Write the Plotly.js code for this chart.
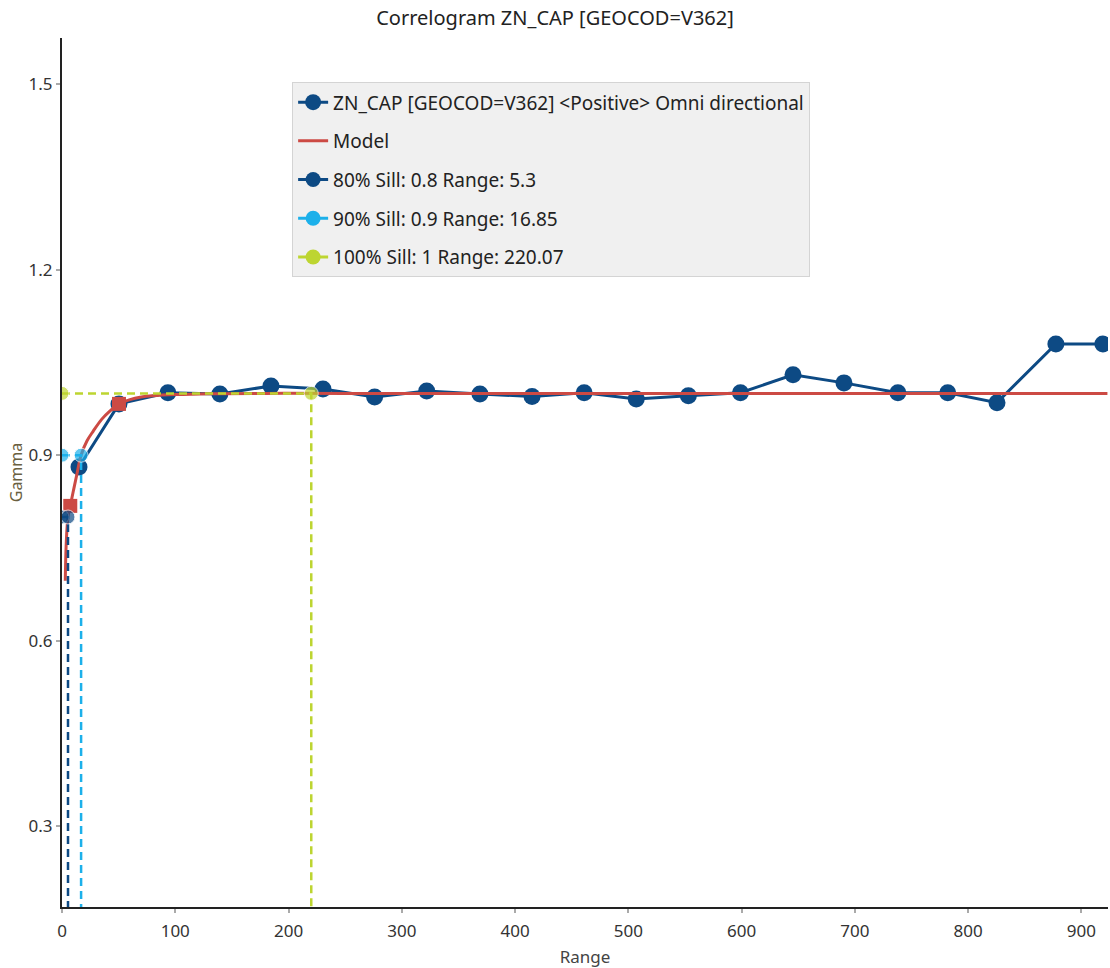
<!DOCTYPE html>
<html>
<head>
<meta charset="utf-8">
<script src="https://cdn.plot.ly/plotly-3.0.1.min.js"></script>
<style>html,body{margin:0;padding:0;background:#fff;}#chart{width:1110px;height:968px;}</style>
</head>
<body>
<div id="chart"></div>
<script>
// Experimental correlogram points
const lag = [15, 50.3, 93.5, 139.4, 184.5, 230.4, 276, 322, 369, 415, 461, 507, 553, 599, 645.4, 690.4, 738, 782, 825.5, 877.5, 919];
const gamma = [0.881, 0.983, 1.001, 0.999, 1.012, 1.007, 0.994, 1.004, 0.999, 0.995, 1.001, 0.991, 0.996, 1.001, 1.030, 1.017, 1.001, 1.001, 0.985, 1.080, 1.080];

// Model curve
const modelH = [2.9, 3.8, 5.3, 7.3, 10, 13, 16.85, 22, 27.6, 35, 42, 50.3, 60, 70, 80, 100, 130, 180, 250, 923];
const modelG = [0.697, 0.76, 0.80, 0.818, 0.842, 0.868, 0.9, 0.923, 0.939, 0.958, 0.971, 0.983, 0.99, 0.994, 0.996, 0.998, 0.9995, 1.0, 1.0, 1.0];

// Model markers (squares)
const modelMarkH = [7.3, 50.3];
const modelMarkG = [0.818, 0.983];

// Sill levels
const sillPct = ['80%', '90%', '100%'];
const sillVal = [0.8, 0.9, 1];
const sillRange = [5.3, 16.85, 220.07];
const sillColors = ['#0d4a84', '#1cb0ea', '#bdd531'];

const dataName = 'ZN_CAP [GEOCOD=V362] &lt;Positive&gt; Omni directional';
const DARK = '#0d4a84';
const RED = '#cc4a44';
const YMIN = 0.169, YMAX = 1.575;

const traces = [];
traces.push({
  x: lag, y: gamma, type: 'scatter', mode: 'lines+markers', name: dataName, legendgroup: 'd',
  line: {color: DARK, width: 3}, marker: {color: DARK, size: 17}, cliponaxis: true
});
traces.push({
  x: modelH, y: modelG, type: 'scatter', mode: 'lines', name: 'Model', legendgroup: 'm',
  line: {color: RED, width: 3, shape: 'spline'}
});
traces.push({
  x: modelMarkH, y: modelMarkG, type: 'scatter', mode: 'markers', showlegend: false, legendgroup: 'm',
  marker: {color: RED, size: 14, symbol: 'square'}
});
for (let i = 0; i < sillVal.length; i++) {
  const name = sillPct[i] + ' Sill: ' + sillVal[i] + ' Range: ' + sillRange[i];
  traces.push({
    x: [0, sillRange[i], sillRange[i]], y: [sillVal[i], sillVal[i], 0],
    type: 'scatter', mode: 'lines+markers', showlegend: false, legendgroup: 'g' + i,
    line: {color: sillColors[i], width: 2.5, dash: '8px,5px'},
    marker: {color: sillColors[i], size: [14, 14, 0]}, cliponaxis: true
  });
  traces.push({
    x: [null], y: [null], type: 'scatter', mode: 'lines+markers', name: name, legendgroup: 'g' + i,
    line: {color: sillColors[i], width: 3}, marker: {color: sillColors[i], size: 15}
  });
}

const layout = {
  width: 1110, height: 968,
  margin: {l: 62, r: 2, t: 38, b: 61},
  paper_bgcolor: '#ffffff', plot_bgcolor: '#ffffff',
  font: {family: 'Noto Sans, Open Sans, sans-serif', color: '#333', size: 16},
  title: {text: 'Correlogram ZN_CAP [GEOCOD=V362]', x: 0.5, xanchor: 'center', y: 0.981, yanchor: 'middle',
          font: {size: 20, color: '#222'}},
  showlegend: true,
  legend: {
    x: 0.22, y: 0.949, xanchor: 'left', yanchor: 'top',
    bgcolor: '#f0f0f0', bordercolor: '#d4d4d4', borderwidth: 1,
    font: {size: 19, color: '#222'}, tracegroupgap: 11, traceorder: 'grouped'
  },
  xaxis: {
    range: [0, 923.5], tick0: 0, dtick: 100, showgrid: false, zeroline: false,
    showline: true, linecolor: '#222', linewidth: 2,
    ticks: 'outside', ticklen: 4, tickcolor: '#aaa', tickwidth: 2, ticklabelstandoff: 4,
    tickfont: {size: 17, color: '#333'},
    title: {text: 'Range', font: {size: 17, color: '#444'}, standoff: 12}
  },
  yaxis: {
    range: [YMIN, YMAX], tick0: 0, dtick: 0.3, tickformat: '.1f', showgrid: false, zeroline: false,
    showline: true, linecolor: '#222', linewidth: 2,
    ticks: 'outside', ticklen: 4, tickcolor: '#aaa', tickwidth: 2,
    tickfont: {size: 17, color: '#333'},
    title: {text: 'Gamma', font: {size: 16, color: '#6a6040'}, standoff: 2}
  }
};

Plotly.newPlot('chart', traces, layout, {displayModeBar: false, staticPlot: true});
</script>
</body>
</html>
